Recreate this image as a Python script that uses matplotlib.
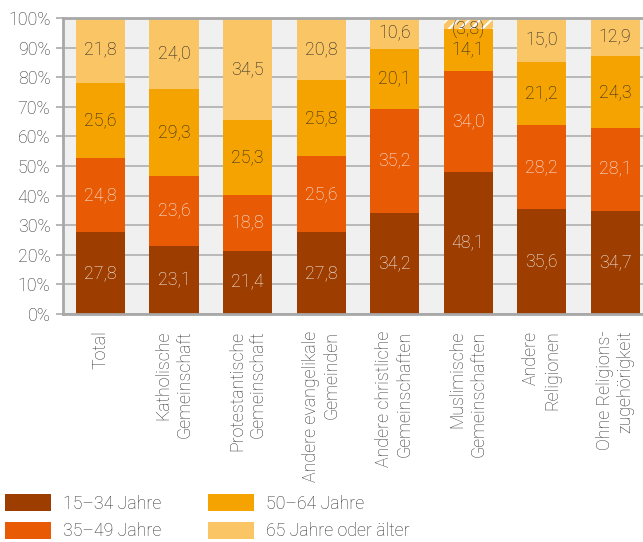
import matplotlib
matplotlib.use("Agg")
import matplotlib.pyplot as plt
from matplotlib.patches import Patch
import numpy as np

plt.rcParams['font.family'] = ['Roboto', 'DejaVu Sans']
plt.rcParams['font.weight'] = 'light'
plt.rcParams['hatch.linewidth'] = 1.5

categories = ["Total", "Katholische\nGemeinschaft", "Protestantische\nGemeinschaft",
              "Andere evangelikale\nGemeinden", "Andere christliche\nGemeinschaften",
              "Muslimische\nGemeinschaften", "Andere\nReligionen", "Ohne Religions-\nzugehörigkeit"]
age_15_34 = [27.8, 23.1, 21.4, 27.8, 34.2, 48.1, 35.6, 34.7]
age_35_49 = [24.8, 23.6, 18.8, 25.6, 35.2, 34.0, 28.2, 28.1]
age_50_64 = [25.6, 29.3, 25.3, 25.8, 20.1, 14.1, 21.2, 24.3]
age_65 = [21.8, 24.0, 34.5, 20.8, 10.6, 3.8, 15.0, 12.9]
uncertain_65 = [False, False, False, False, False, True, False, False]
series_labels = ["15–34 Jahre", "35–49 Jahre", "50–64 Jahre", "65 Jahre oder älter"]
colors = ["#9e3d00", "#e85a04", "#f5a300", "#fac564"]
text_colors = ["#f5f5f5", "#f5f5f5", "#222222", "#222222"]

FS = 12.8
TXT = "#333333"

fig = plt.figure(figsize=(6.43, 5.42), dpi=100)
ax = fig.add_axes([63/643, (542-314)/542, 1 - 63/643, (314-18)/542])
ax.set_facecolor("#f0f0f0")

x = np.arange(len(categories))
w = 0.667
bottom = np.zeros(len(categories))
series = [age_15_34, age_35_49, age_50_64, age_65]
for si, vals in enumerate(series):
    vals = np.array(vals)
    bars = ax.bar(x, vals, w, bottom=bottom, color=colors[si], zorder=3, linewidth=0)
    for i, v in enumerate(vals):
        txt = f"{v:.1f}".replace(".", ",")
        y = bottom[i] + v / 2
        if si == 3 and uncertain_65[i]:
            bars[i].set_hatch('///')
            bars[i].set_edgecolor('white')
            bars[i].set_linewidth(0)
            txt = f"({txt})"
            y = bottom[i] + v * 0.1
        ax.text(x[i], y, txt, ha='center', va='center',
                fontsize=FS, color=text_colors[si], zorder=4)
    bottom += vals

ax.set_xlim(-0.51, 7.38)
ax.set_ylim(0, 100)
ax.set_yticks(np.arange(0, 101, 10))
ax.set_yticklabels([f"{v}%" for v in range(0, 101, 10)], fontsize=FS, color=TXT)
ax.set_xticks(x)
ax.set_xticklabels(categories, rotation=90, ha='center', va='top', multialignment='right',
                   fontsize=FS, color=TXT)
ax.tick_params(axis='x', length=0, pad=12)
ax.tick_params(axis='y', length=5, width=1.2, color="#aaaaaa", pad=4)
ax.grid(axis='y', color="#b4b4b4", linewidth=1.3, zorder=1)
ax.set_axisbelow(True)
for s in ['left', 'bottom', 'top']:
    ax.spines[s].set_color("#a8a8a8")
    ax.spines[s].set_linewidth(2)
    ax.spines[s].set_zorder(5)
ax.spines['right'].set_visible(False)

handles = [Patch(facecolor=c, edgecolor='none') for c in colors]
leg = fig.legend(handles, series_labels, ncol=2,
                 loc='upper left', bbox_to_anchor=(0.007, 1 - 494/542), frameon=False,
                 fontsize=FS, handlelength=2.6, handleheight=1.13, handletextpad=0.7,
                 columnspacing=2.6, labelspacing=0.5, borderaxespad=0, borderpad=0.0)
for t in leg.get_texts():
    t.set_color(TXT)

fig.savefig("out.png", dpi=100)
